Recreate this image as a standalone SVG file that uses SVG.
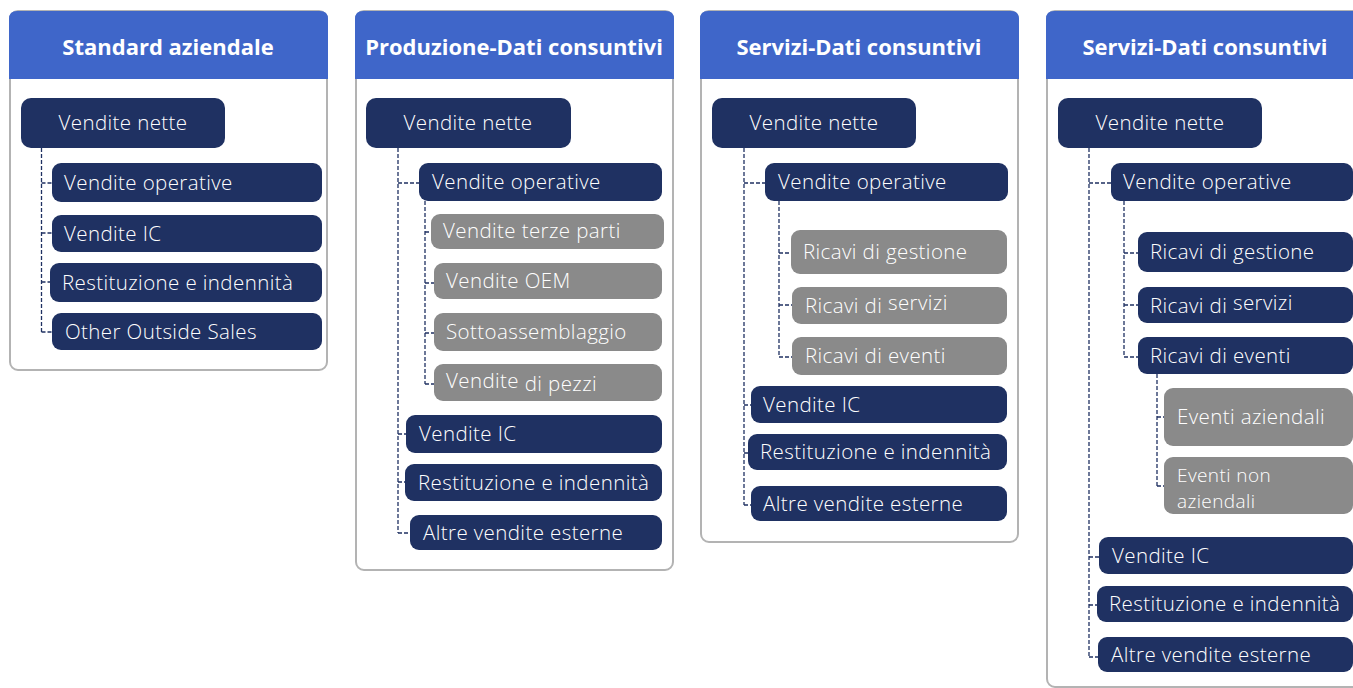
<svg xmlns="http://www.w3.org/2000/svg" width="1353" height="688" viewBox="0 0 1353 688">
<style>
.panel{fill:#fff;stroke:#b3b3b3;stroke-width:2}
.hdr{fill:#3f66c9}
.title{font-family:"Open Sans","Liberation Sans",sans-serif;font-weight:700;font-size:22px;fill:#fff;text-anchor:middle}
.n{fill:#1f3162}
.g{fill:#8a8a8a}
.t{font-family:"Open Sans","Liberation Sans",sans-serif;font-weight:300;font-size:20.5px;letter-spacing:0.4px;fill:#fff}
.c{text-anchor:middle}
.con{fill:none;stroke:#1f3162;stroke-width:1.3;stroke-dasharray:4 2}
</style>
<rect width="1353" height="688" fill="#fff"/>
<!-- panels -->
<g id="panel1">
<rect class="panel" x="10" y="11" width="317" height="359" rx="8"/>
<path class="hdr" d="M9,79 V19 Q9,11 17,11 H320 Q328,11 328,19 V79 Z"/>
<text class="title" x="168" y="55">Standard aziendale</text>
</g>
<g id="panel2">
<rect class="panel" x="356" y="11" width="317" height="559" rx="8"/>
<path class="hdr" d="M355,79 V19 Q355,11 363,11 H666 Q674,11 674,19 V79 Z"/>
<text class="title" x="514" y="55">Produzione-Dati consuntivi</text>
</g>
<g id="panel3">
<rect class="panel" x="701" y="11" width="317" height="531" rx="8"/>
<path class="hdr" d="M700,79 V19 Q700,11 708,11 H1011 Q1019,11 1019,19 V79 Z"/>
<text class="title" x="859" y="55">Servizi-Dati consuntivi</text>
</g>
<g id="panel4">
<rect class="panel" x="1047" y="11" width="317" height="676" rx="8"/>
<path class="hdr" d="M1046,79 V19 Q1046,11 1054,11 H1357 Q1365,11 1365,19 V79 Z"/>
<text class="title" x="1205" y="55">Servizi-Dati consuntivi</text>
</g>
<!-- connectors -->
<g id="connectors" class="con">
<path d="M41.5,148 V332 M41.5,183 H52 M41.5,233 H52 M41.5,282 H50 M41.5,332 H52"/>
<path d="M398,148 V533 M398,183 H419 M398,434 H406 M398,482 H405 M398,533 H410"/>
<path d="M425,201 V384 M425,232 H431 M425,283 H434 M425,333 H434 M425,384 H434"/>
<path d="M744,148 V505 M744,183 H765 M744,405 H751 M744,453 H748 M744,505 H751"/>
<path d="M779,201 V357 M779,253 H791 M779,305 H792 M779,357 H792"/>
<path d="M1089,148 V657 M1089,183 H1111 M1089,557 H1099 M1089,605 H1097 M1089,657 H1098"/>
<path d="M1124,201 V357 M1124,253 H1138 M1124,305 H1138 M1124,357 H1138"/>
<path d="M1157,374 V486 M1157,417 H1164 M1157,486 H1164"/>
</g>
<!-- panel 1 nodes -->
<g id="p1-vn"><rect class="n" x="21" y="98" width="204" height="50" rx="10"/><text class="t c" x="123" y="130">Vendite nette</text></g>
<g id="p1-vo"><rect class="n" x="52" y="163" width="270" height="39" rx="9"/><text class="t" x="64" y="190">Vendite operative</text></g>
<g id="p1-vic"><rect class="n" x="52" y="215" width="270" height="37" rx="9"/><text class="t" x="64" y="241">Vendite IC</text></g>
<g id="p1-rest"><rect class="n" x="50" y="263" width="272" height="39" rx="9"/><text class="t" x="62" y="290">Restituzione e indennità</text></g>
<g id="p1-oos"><rect class="n" x="52" y="313" width="270" height="37" rx="9"/><text class="t" x="65" y="339">Other Outside Sales</text></g>
<!-- panel 2 nodes -->
<g id="p2-vn"><rect class="n" x="366" y="98" width="205" height="50" rx="10"/><text class="t c" x="468" y="130">Vendite nette</text></g>
<g id="p2-vo"><rect class="n" x="419" y="163" width="243" height="38" rx="9"/><text class="t" x="432" y="189">Vendite operative</text></g>
<g id="p2-vtp"><rect class="g" x="431" y="214" width="233" height="35" rx="9"/><text class="t" x="443" y="238">Vendite terze parti</text></g>
<g id="p2-oem"><rect class="g" x="434" y="263" width="228" height="36" rx="9"/><text class="t" x="446" y="288">Vendite OEM</text></g>
<g id="p2-sotto"><rect class="g" x="434" y="313" width="228" height="38" rx="9"/><text class="t" x="446" y="339">Sottoassemblaggio</text></g>
<g id="p2-pezzi"><rect class="g" x="434" y="364" width="228" height="37" rx="9"/><text class="t" x="446" y="388">Vendite <tspan dy="3">di pezzi</tspan></text></g>
<g id="p2-vic"><rect class="n" x="406" y="415" width="256" height="38" rx="9"/><text class="t" x="419" y="441">Vendite IC</text></g>
<g id="p2-rest"><rect class="n" x="405" y="464" width="257" height="37" rx="9"/><text class="t" x="418" y="490">Restituzione e indennità</text></g>
<g id="p2-altre"><rect class="n" x="410" y="515" width="252" height="35" rx="9"/><text class="t" x="423" y="540">Altre vendite esterne</text></g>
<!-- panel 3 nodes -->
<g id="p3-vn"><rect class="n" x="712" y="98" width="204" height="50" rx="10"/><text class="t c" x="814" y="130">Vendite nette</text></g>
<g id="p3-vo"><rect class="n" x="765" y="163" width="243" height="38" rx="9"/><text class="t" x="778" y="189">Vendite operative</text></g>
<g id="p3-rg"><rect class="g" x="791" y="230" width="216" height="44" rx="9"/><text class="t" x="803" y="259">Ricavi di gestione</text></g>
<g id="p3-rs"><rect class="g" x="792" y="287" width="215" height="37" rx="9"/><text class="t" x="805" y="313">Ricavi di <tspan dy="-3">servizi</tspan></text></g>
<g id="p3-re"><rect class="g" x="792" y="337" width="215" height="38" rx="9"/><text class="t" x="805" y="363">Ricavi di eventi</text></g>
<g id="p3-vic"><rect class="n" x="751" y="386" width="256" height="37" rx="9"/><text class="t" x="763" y="412">Vendite IC</text></g>
<g id="p3-rest"><rect class="n" x="748" y="434" width="259" height="36" rx="9"/><text class="t" x="760" y="459">Restituzione e indennità</text></g>
<g id="p3-altre"><rect class="n" x="751" y="486" width="256" height="35" rx="9"/><text class="t" x="763" y="511">Altre vendite esterne</text></g>
<!-- panel 4 nodes -->
<g id="p4-vn"><rect class="n" x="1058" y="98" width="204" height="50" rx="10"/><text class="t c" x="1160" y="130">Vendite nette</text></g>
<g id="p4-vo"><rect class="n" x="1111" y="163" width="242" height="38" rx="9"/><text class="t" x="1123" y="189">Vendite operative</text></g>
<g id="p4-rg"><rect class="n" x="1138" y="232" width="215" height="40" rx="9"/><text class="t" x="1150" y="259">Ricavi di gestione</text></g>
<g id="p4-rs"><rect class="n" x="1138" y="287" width="215" height="36" rx="9"/><text class="t" x="1150" y="313">Ricavi di <tspan dy="-3">servizi</tspan></text></g>
<g id="p4-re"><rect class="n" x="1138" y="337" width="215" height="37" rx="9"/><text class="t" x="1150" y="363">Ricavi di eventi</text></g>
<g id="p4-ea"><rect class="g" x="1164" y="388" width="189" height="58" rx="9"/><text class="t" x="1177" y="424">Eventi aziendali</text></g>
<g id="p4-ena"><rect class="g" x="1164" y="457" width="189" height="57" rx="9"/><text class="t" x="1177" y="482" style="font-size:19px">Eventi non</text><text class="t" x="1177" y="508" style="font-size:19px">aziendali</text></g>
<g id="p4-vic"><rect class="n" x="1099" y="537" width="254" height="37" rx="9"/><text class="t" x="1112" y="563">Vendite IC</text></g>
<g id="p4-rest"><rect class="n" x="1097" y="586" width="256" height="36" rx="9"/><text class="t" x="1109" y="611">Restituzione e indennità</text></g>
<g id="p4-altre"><rect class="n" x="1098" y="637" width="255" height="35" rx="9"/><text class="t" x="1111" y="662">Altre vendite esterne</text></g>
</svg>
